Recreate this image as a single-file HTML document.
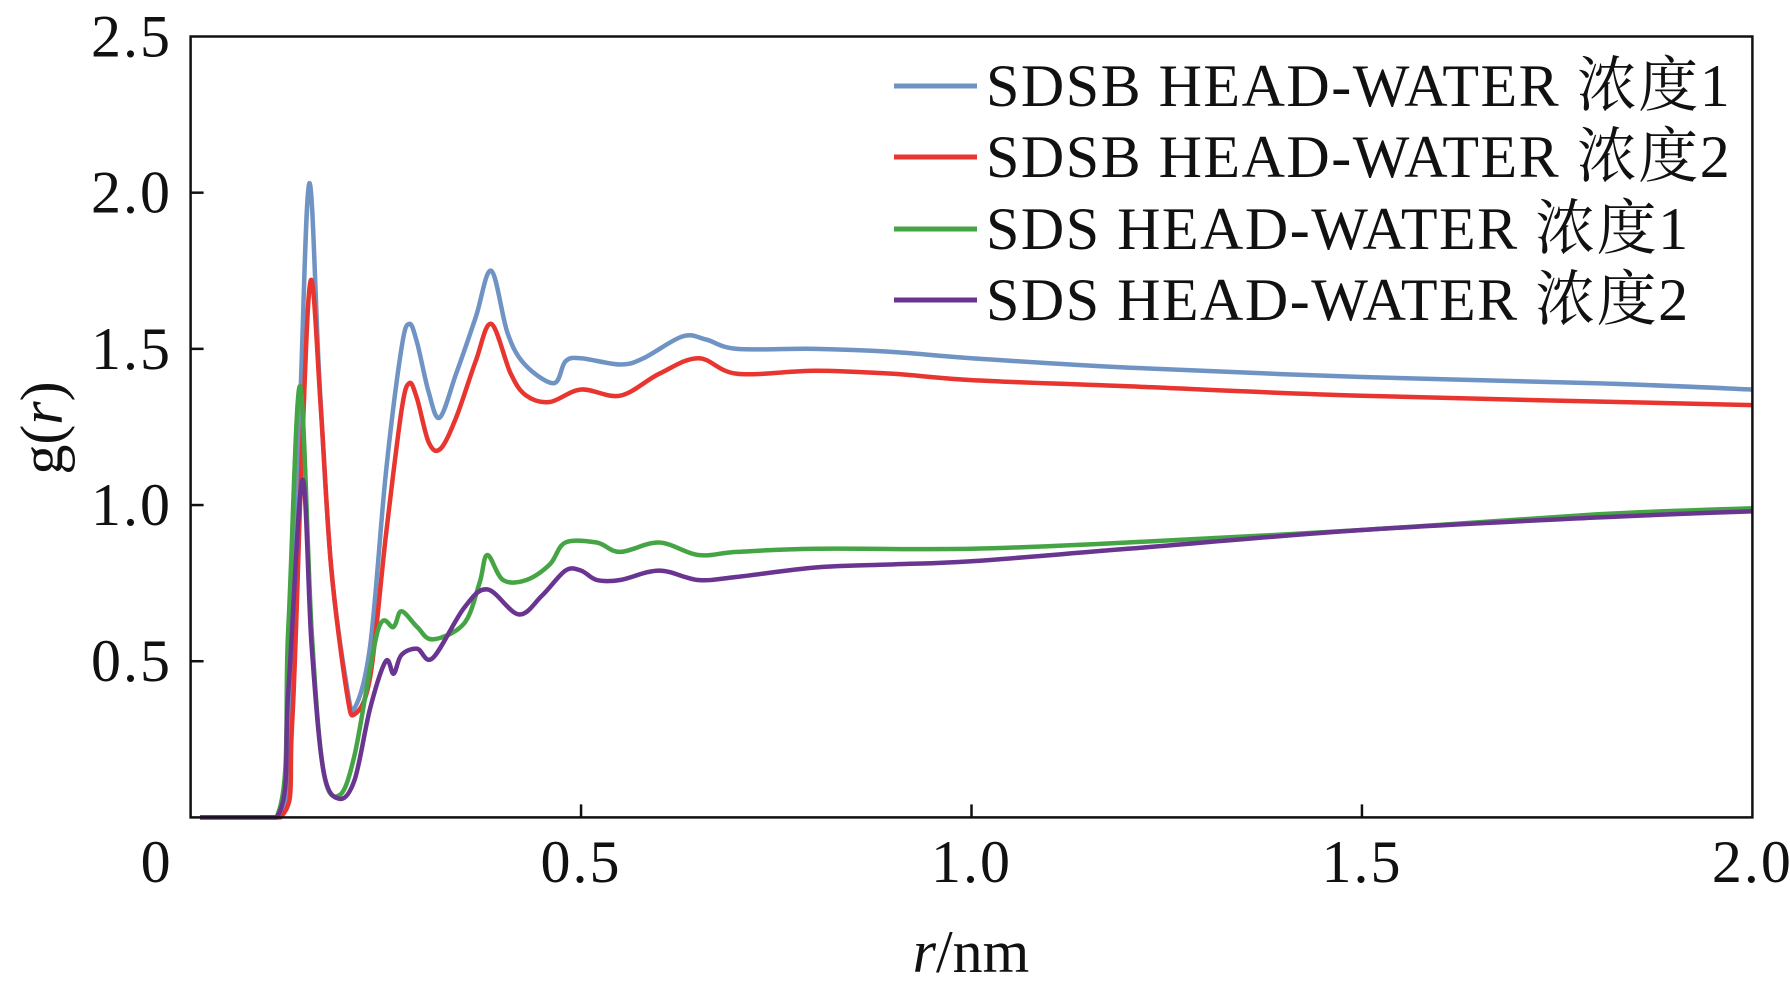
<!DOCTYPE html>
<html><head><meta charset="utf-8"><style>
body{margin:0;background:#fff;}
svg{display:block;font-family:"Liberation Serif","Noto Serif CJK SC",serif;}
</style></head><body>
<svg id="chart" width="1790" height="994" viewBox="0 0 1790 994"></svg>
<script>
const xTicks=[0.5,1.0,1.5];
const xTickLabels=["0","0.5","1.0","1.5","2.0"];
const xTickLabelVals=[0,0.5,1.0,1.5,2.0];
const yTicks=[0.5,1.0,1.5,2.0];
const yTickLabels=["0.5","1.0","1.5","2.0","2.5"];
const yTickLabelVals=[0.5,1.0,1.5,2.0,2.5];
const seriesNames=["SDSB HEAD-WATER 浓度1","SDSB HEAD-WATER 浓度2","SDS HEAD-WATER 浓度1","SDS HEAD-WATER 浓度2"];
const seriesColors=["#6f93c3","#e8352f","#45a545","#6a3590"];
const rBlue=[0.012,0.11,0.125,0.14,0.152,0.165,0.18,0.2,0.21,0.23,0.25,0.27,0.28,0.29,0.305,0.319,0.34,0.365,0.385,0.406,0.428,0.465,0.48,0.5,0.55,0.58,0.63,0.66,0.7,0.8,0.9,1.0,1.2,1.5,1.8,2.0];
const gBlue=[0,0,0.3,1.3,2.03,1.4,0.8,0.42,0.35,0.55,1.1,1.5,1.58,1.52,1.36,1.28,1.42,1.6,1.75,1.55,1.45,1.39,1.46,1.47,1.45,1.47,1.54,1.53,1.5,1.5,1.49,1.47,1.44,1.41,1.39,1.37];
const rRed=[0.012,0.115,0.13,0.143,0.154,0.167,0.18,0.2,0.21,0.23,0.25,0.27,0.28,0.29,0.305,0.32,0.34,0.365,0.385,0.41,0.43,0.46,0.5,0.55,0.6,0.65,0.7,0.8,0.9,1.0,1.2,1.5,2.0];
const gRed=[0,0,0.3,1.2,1.72,1.3,0.8,0.4,0.33,0.45,0.9,1.3,1.39,1.34,1.2,1.18,1.28,1.46,1.58,1.42,1.35,1.33,1.37,1.35,1.42,1.47,1.42,1.43,1.42,1.4,1.38,1.35,1.32];
const rGreen=[0.012,0.11,0.125,0.14,0.155,0.17,0.19,0.21,0.24,0.26,0.27,0.29,0.31,0.35,0.37,0.38,0.4,0.43,0.46,0.48,0.52,0.55,0.6,0.65,0.7,0.8,1.0,1.2,1.5,1.8,2.0];
const gGreen=[0,0,0.6,1.38,0.6,0.15,0.07,0.2,0.6,0.61,0.66,0.61,0.57,0.62,0.75,0.84,0.76,0.76,0.81,0.88,0.88,0.85,0.88,0.84,0.85,0.86,0.86,0.88,0.92,0.97,0.99];
const rPurple=[0.012,0.11,0.125,0.143,0.155,0.17,0.19,0.21,0.23,0.25,0.26,0.27,0.29,0.31,0.35,0.38,0.42,0.45,0.48,0.5,0.52,0.55,0.6,0.65,0.7,0.8,0.9,1.0,1.2,1.5,1.8,2.0];
const gPurple=[0,0,0.4,1.08,0.55,0.15,0.06,0.12,0.35,0.5,0.46,0.52,0.54,0.51,0.67,0.73,0.65,0.71,0.79,0.79,0.76,0.76,0.79,0.76,0.77,0.8,0.81,0.82,0.86,0.92,0.96,0.98];
const seriesR=[rBlue,rRed,rGreen,rPurple];
const seriesG=[gBlue,gRed,gGreen,gPurple];

const L=190.6,R=1752.4,T=36.5,B=817.4;
const xs=v=>L+(v/2)*(R-L);
const ys=v=>B-(v/2.5)*(B-T);
const svg=document.getElementById('chart');
const NS="http://www.w3.org/2000/svg";
function mk(t,a){const e=document.createElementNS(NS,t);for(const k in a)e.setAttribute(k,a[k]);svg.appendChild(e);return e;}

for(let s=0;s<4;s++){
  const P=seriesR[s].map((r,i)=>[xs(r),ys(seriesG[s][i])]);
  let d="M"+P[0][0].toFixed(1)+","+P[0][1].toFixed(1);
  for(let i=0;i<P.length-1;i++){
    const p0=P[Math.max(0,i-1)],p1=P[i],p2=P[i+1],p3=P[Math.min(P.length-1,i+2)];
    const c1=[p1[0]+(p2[0]-p0[0])/6,Math.min(B,p1[1]+(p2[1]-p0[1])/6)];
    const c2=[p2[0]-(p3[0]-p1[0])/6,Math.min(B,p2[1]-(p3[1]-p1[1])/6)];
    if(p1[1]>=B-0.1&&p2[1]>=B-0.1){c1[1]=B;c2[1]=B;}
    d+=`C${c1[0].toFixed(1)},${c1[1].toFixed(1)} ${c2[0].toFixed(1)},${c2[1].toFixed(1)} ${p2[0].toFixed(1)},${p2[1].toFixed(1)}`;
  }
  const p=mk('path',{d:d,fill:'none',stroke:seriesColors[s],'stroke-width':4.5,'stroke-linejoin':'round'});
  
  
}
const f=mk('rect',{x:L,y:T,width:R-L,height:B-T,fill:'none',stroke:'#111','stroke-width':2.5});


xTicks.forEach(v=>{const t=mk('line',{x1:xs(v),x2:xs(v),y1:B,y2:B-13,stroke:'#111','stroke-width':2.5});

});
yTicks.forEach(v=>{const t=mk('line',{x1:L,x2:L+13,y1:ys(v),y2:ys(v),stroke:'#111','stroke-width':2.5});

});
xTickLabelVals.forEach((v,i)=>{const t=mk('text',{x:xs(v)-(v===0?34:0),y:882,'font-size':60,'letter-spacing':2,'text-anchor':'middle',fill:'#111'});t.textContent=xTickLabels[i];

});
yTickLabelVals.forEach((v,i)=>{const t=mk('text',{x:172,y:ys(v)+20,'font-size':60,'letter-spacing':2,'text-anchor':'end',fill:'#111'});t.textContent=yTickLabels[i];

});
const xt=mk('text',{x:971,y:972,'font-size':60,'text-anchor':'middle',fill:'#111'});
xt.innerHTML='<tspan font-style="italic">r</tspan>/nm';


const yt=mk('text',{x:0,y:0,'font-size':60,'text-anchor':'middle',fill:'#111',transform:'translate(62,428) rotate(-90)'});
yt.innerHTML='g(<tspan font-style="italic">r</tspan>)';


const legY=[86,157,229,300];
for(let s=0;s<4;s++){
  const l=mk('line',{x1:894,x2:977,y1:legY[s],y2:legY[s],stroke:seriesColors[s],'stroke-width':5});
  
  
  const t=mk('text',{x:986,y:legY[s]+20,'font-size':60,'letter-spacing':1.5,fill:'#111'});
  t.textContent=seriesNames[s];
  
  
}
</script>
</body></html>
